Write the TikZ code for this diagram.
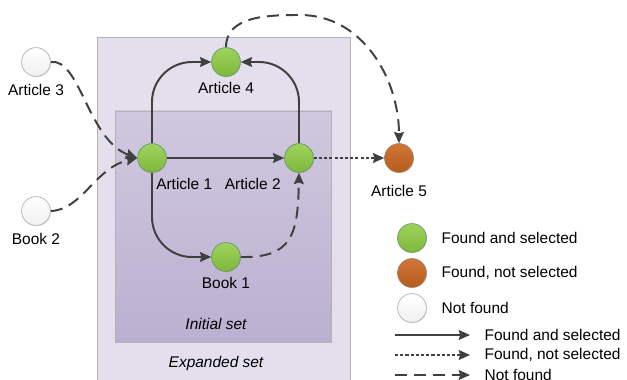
\documentclass[tikz,border=0pt]{standalone}
\usepackage{fontspec}
\setmainfont{Liberation Sans}
\usetikzlibrary{arrows.meta,shadows,positioning}
\tikzset{every picture/.style={line width=1.4pt}}

\definecolor{edgegray}{HTML}{404040}
\definecolor{selgreen}{HTML}{8DCB41}
\definecolor{notorange}{HTML}{CC6620}
\definecolor{expfill}{HTML}{E3DFEC}
\definecolor{inittop}{HTML}{D0C8DF}
\definecolor{initbot}{HTML}{BBB0D0}

\begin{document}
\begin{tikzpicture}[x=0.025cm, y=-0.025cm, >={Stealth[length=8pt, width=7pt, inset=1pt]},
        every node/.style={font=\fontsize{11}{13}\selectfont},
        doc/.style={circle, minimum size=20.5pt, inner sep=0pt, line width=0.5pt,
            drop shadow={shadow xshift=0.6pt, shadow yshift=-0.6pt, opacity=0.2}},
        found/.style={doc, draw=gray!80!green, top color=selgreen!85!white, bottom color=selgreen!90!black},
        notsel/.style={doc, draw=gray!80!orange, top color=notorange!90!white, bottom color=notorange!90!black},
        missing/.style={doc, draw=gray!60, top color=white, bottom color=gray!12},
        link/.style={draw=edgegray, ->},
        nolink/.style={link, dash pattern=on 8.5pt off 5pt},
        droplink/.style={link, dash pattern=on 2.2pt off 1.5pt}]
        \useasboundingbox (0,0) rectangle (627,380);
        \clip (0,0) rectangle (627,380);

        % sets
        \draw[draw=gray!60, fill=expfill, line width=0.6pt] (97,37) rectangle (350,400);
        \draw[draw=gray!60, top color=inittop, bottom color=initbot, line width=0.6pt] (115,111) rectangle (331,342);
        \node[font=\fontsize{11}{13}\itshape] (init) at (216,324) {Initial set};
        \node[font=\fontsize{11}{13}\itshape] (exp)  at (216,364) {Expanded set};

        % documents
        \node[missing] (a3) at (36,62)   {};
        \node[missing] (b2) at (36,211)  {};
        \node[found]   (a1) at (152,158) {};
        \node[found]   (a2) at (299,158) {};
        \node[found]   (a4) at (226,62)  {};
        \node[found]   (b1) at (226,257) {};
        \node[notsel]  (a5) at (399,158) {};
        \node[below=1pt of a3] {Article 3};
        \node[below=1pt of b2] {Book 2};
        \node[below=0pt of a4] {Article 4};
        \node[below=0pt of b1] {Book 1};
        \node[below=5pt of a5] {Article 5};
        \node[anchor=north west] at ([xshift=-1pt]a1.south) {Article 1};
        \node[anchor=north east] at ([xshift=-9pt]a2.south) {Article 2};

        % links
        \draw[link] (a1) -- (a2);
        \draw[link, rounded corners=1cm] (a1.north) |- (a4.west);
        \draw[link, rounded corners=1cm] (a2.north) |- (a4.east);
        \draw[link, rounded corners=1cm] (a1.south) |- (b1.west);
        \draw[nolink] (b1.east) .. controls (292,258) and (298,235) .. (a2.south);
        \draw[nolink] (a3.east) .. controls (80,58) and (88,140) .. (a1.west);
        \draw[nolink] (b2.east) .. controls (82,210) and (95,168) .. (a1.west);
        \coordinate (arc) at (300,15);
        \draw[nolink] (a4.north) to[out=90, in=180] (arc) to[out=0, in=90] (a5.north);
        \draw[droplink] (a2) -- (a5);

        % legend
        \node[found]   (k1) at (412,238) {};
        \node[notsel]  (k2) at (412,273) {};
        \node[missing] (k3) at (412,308) {};
        \node[anchor=west] at (436,238) {Found and selected};
        \node[anchor=west] at (436,273) {Found, not selected};
        \node[anchor=west] at (436,308) {Not found};
        \coordinate (s1) at (395,335); \coordinate (e1) at (470,335);
        \coordinate (s2) at (395,355); \coordinate (e2) at (470,355);
        \coordinate (s3) at (395,375); \coordinate (e3) at (470,375);
        \draw[link] (s1) -- (e1);
        \draw[droplink] (s2) -- (e2);
        \draw[nolink] (s3) -- (e3);
        \node[anchor=west] at (479,335) {Found and selected};
        \node[anchor=west] at (479,355) {Found, not selected};
        \node[anchor=west] at (479,375) {Not found};
    \end{tikzpicture}
\end{document}
